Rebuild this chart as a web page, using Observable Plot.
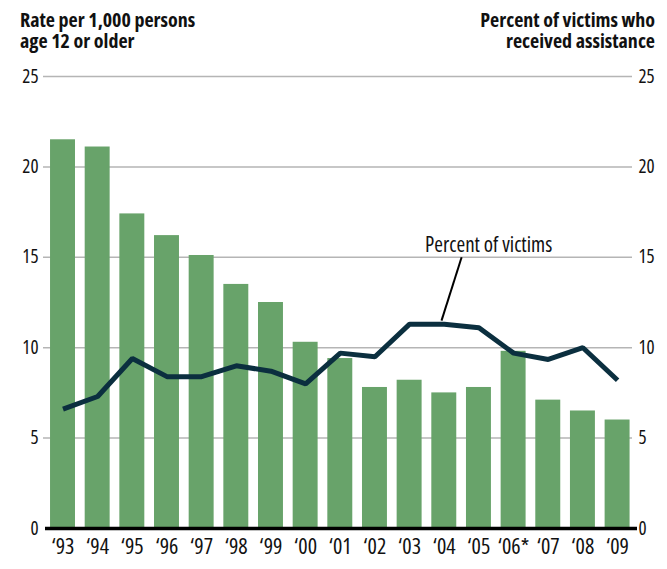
<!DOCTYPE html>
<html>
<head>
<meta charset="utf-8">
<script src="https://cdn.jsdelivr.net/npm/d3@7"></script>
<script src="https://cdn.jsdelivr.net/npm/@observablehq/plot@0.6"></script>
<style>
  body { margin: 0; background: #fff; }
  #wrap { position: relative; width: 667px; height: 569px; font-family: "Open Sans", sans-serif; font-stretch: 75%; }
  #wrap svg text { font-stretch: 75%; }
  .title { position: absolute; top: 9px; font-weight: bold; font-size: 20px; line-height: 21px; color: #111; font-stretch: 75%; }
  #tl { left: 20px; text-align: left; }
  #tr { right: 12px; text-align: right; }
  #chart { position: absolute; left: 0; top: 0; }
</style>
</head>
<body>
<div id="wrap">
  <div id="chart"></div>
  <div class="title" id="tl">Rate per 1,000 persons<br>age 12 or older</div>
  <div class="title" id="tr">Percent of victims who<br>received assistance</div>
</div>
<script>
const years = ["‘93","‘94","‘95","‘96","‘97","‘98","‘99","‘00","‘01","‘02","‘03","‘04","‘05","‘06*","‘07","‘08","‘09"];
const rates = [21.5, 21.1, 17.4, 16.2, 15.1, 13.5, 12.5, 10.3, 9.4, 7.8, 8.2, 7.5, 7.8, 9.8, 7.1, 6.5, 6.0];
const percents = [6.6, 7.3, 9.4, 8.4, 8.4, 9.0, 8.7, 8.0, 9.7, 9.5, 11.3, 11.3, 11.1, 9.7, 9.35, 10.0, 8.2];
const yTicks = [0, 5, 10, 15, 20, 25];
const annotationText = ["Percent of victims"];
const annotationFrom = [10.92, 11.5];
const annotationTo = [11.5, 15.0];
const annotationLabelPos = [12.28, 15.3];

const data = years.map((y, i) => ({i, year: y, rate: rates[i], pct: percents[i]}));
const half = 0.36;

const chart = Plot.plot({
  width: 667,
  height: 569,
  marginLeft: 44,
  marginRight: 35,
  marginTop: 76,
  marginBottom: 41,
  style: {fontFamily: '"Open Sans", sans-serif', fontSize: "20px", color: "#111", background: "transparent"},
  x: {domain: [-0.534, 16.43], axis: null},
  y: {domain: [0, 25], axis: null},
  marks: [
    Plot.ruleY(yTicks.filter(d => d > 0), {stroke: "#b5b5b5", strokeWidth: 1.5, insetLeft: -1}),
    Plot.rectY(data, {x1: d => d.i - half, x2: d => d.i + half, y1: 0, y2: "rate", fill: "#68a36a"}),
    Plot.ruleY([0], {stroke: "#000", strokeWidth: 3.5, insetLeft: 1, insetRight: -5}),
    Plot.line(data, {x: "i", y: "pct", stroke: "#0b2f3f", strokeWidth: 5, strokeLinejoin: "miter", strokeLinecap: "butt"}),
    Plot.link([0], {x1: () => annotationFrom[0], y1: () => annotationFrom[1], x2: () => annotationTo[0], y2: () => annotationTo[1], stroke: "#000", strokeWidth: 2}),
    Plot.text(annotationText, {x: () => annotationLabelPos[0], y: () => annotationLabelPos[1], text: d => d, textAnchor: "middle", lineAnchor: "bottom", fontSize: 21, fill: "#111"}),
    Plot.axisY(yTicks, {anchor: "left", tickSize: 0, tickPadding: 6, fontSize: 19, label: null}),
    Plot.axisY(yTicks, {anchor: "right", tickSize: 0, tickPadding: 6, fontSize: 19, label: null}),
    Plot.axisX(d3.range(years.length), {tickSize: 0, tickPadding: 10, tickFormat: i => years[i], fontSize: 22, label: null})
  ]
});
document.getElementById("chart").appendChild(chart);
</script>
</body>
</html>
